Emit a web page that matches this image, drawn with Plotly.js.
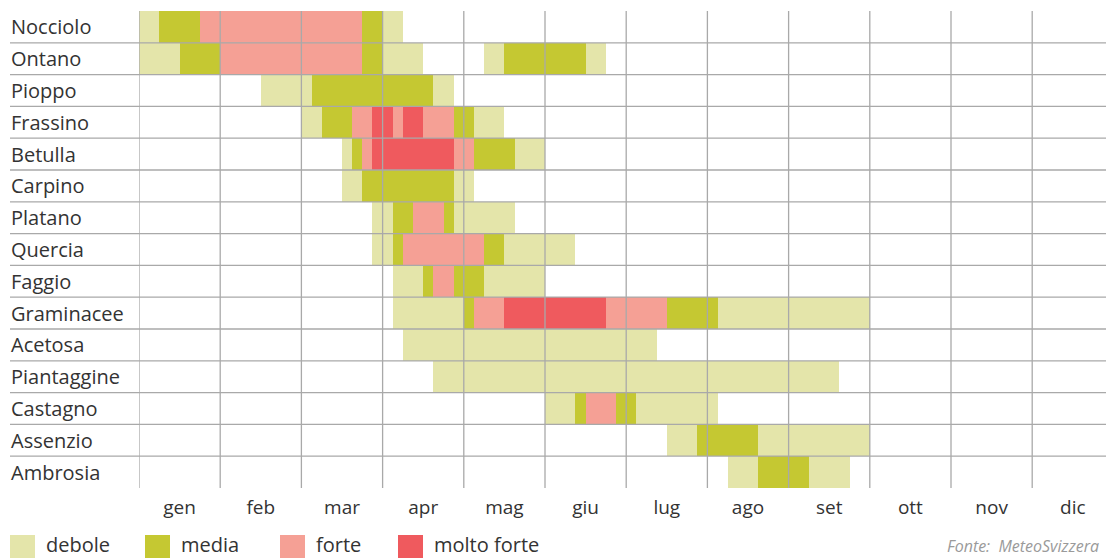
<!DOCTYPE html>
<html>
<head>
<meta charset="utf-8">
<script src="https://cdn.plot.ly/plotly-3.0.1.min.js"></script>
<style>html,body{margin:0;padding:0;background:#fff;}#chart{width:1106px;height:558px;}</style>
</head>
<body>
<div id="chart"></div>
<script>
// ---- data (values in months from 1 January; 0.125 = 1/8 month) ----
const plants = ['Nocciolo','Ontano','Pioppo','Frassino','Betulla','Carpino','Platano','Quercia',
  'Faggio','Graminacee','Acetosa','Piantaggine','Castagno','Assenzio','Ambrosia'];
const months = ['gen','feb','mar','apr','mag','giu','lug','ago','set','ott','nov','dic'];
const levels = ['debole','media','forte','molto forte'];

// [plant, start, end]
const debole = [
  ['Nocciolo',0,0.25],['Nocciolo',3,3.25],
  ['Ontano',0,0.5],['Ontano',3,3.5],['Ontano',4.25,4.5],['Ontano',5.5,5.75],
  ['Pioppo',1.5,2.125],['Pioppo',3.625,3.875],
  ['Frassino',2,2.25],['Frassino',4.125,4.5],
  ['Betulla',2.5,2.625],['Betulla',4.625,5],
  ['Carpino',2.5,2.75],['Carpino',3.875,4.125],
  ['Platano',2.875,3.125],['Platano',3.875,4.625],
  ['Quercia',2.875,3.125],['Quercia',4.5,5.375],
  ['Faggio',3.125,3.5],['Faggio',4.25,5],
  ['Graminacee',3.125,4],['Graminacee',7.125,9],
  ['Acetosa',3.25,6.375],
  ['Piantaggine',3.625,8.625],
  ['Castagno',5,5.375],['Castagno',6.125,7.125],
  ['Assenzio',6.5,6.875],['Assenzio',7.625,9],
  ['Ambrosia',7.25,7.625],['Ambrosia',8.25,8.75]
];
const media = [
  ['Nocciolo',0.25,0.75],['Nocciolo',2.75,3],
  ['Ontano',0.5,1],['Ontano',2.75,3],['Ontano',4.5,5.5],
  ['Pioppo',2.125,3.625],
  ['Frassino',2.25,2.625],['Frassino',3.875,4.125],
  ['Betulla',2.625,2.75],['Betulla',4.125,4.625],
  ['Carpino',2.75,3.875],
  ['Platano',3.125,3.375],['Platano',3.75,3.875],
  ['Quercia',3.125,3.25],['Quercia',4.25,4.5],
  ['Faggio',3.5,3.625],['Faggio',3.875,4.25],
  ['Graminacee',4,4.125],['Graminacee',6.5,7.125],
  ['Castagno',5.375,5.5],['Castagno',5.875,6.125],
  ['Assenzio',6.875,7.625],
  ['Ambrosia',7.625,8.25]
];
const forte = [
  ['Nocciolo',0.75,2.75],
  ['Ontano',1,2.75],
  ['Frassino',2.625,2.875],['Frassino',3.125,3.25],['Frassino',3.5,3.875],
  ['Betulla',2.75,2.875],['Betulla',3.875,4.125],
  ['Platano',3.375,3.75],
  ['Quercia',3.25,4.25],
  ['Faggio',3.625,3.875],
  ['Graminacee',4.125,4.5],['Graminacee',5.75,6.5],
  ['Castagno',5.5,5.875]
];
const moltoForte = [
  ['Frassino',2.875,3.125],['Frassino',3.25,3.5],
  ['Betulla',2.875,3.875],
  ['Graminacee',4.5,5.75]
];
const levelData = [debole, media, forte, moltoForte];
const levelColors = ['#e4e5aa','#c5c832','#f5a095','#ef5a5e'];

// ---- layout geometry ----
const W = 1106, H = 558;
const mL = 139, mR = 0, mT = 11, mB = 70;
const monthPx = 81.2;
const plotW = W - mL - mR, plotH = H - mT - mB;
const px2x = px => (px - mL) / plotW;
const px2y = py => (H - mB - py) / plotH;
const font = 'Open Sans, Noto Sans, sans-serif';

const traces = levelData.map((segs, i) => ({
  type: 'bar', orientation: 'h', name: levels[i],
  y: segs.map(s => s[0]),
  base: segs.map(s => s[1]),
  x: segs.map(s => s[2] - s[1]),
  width: 1,
  marker: {color: levelColors[i], line: {width: 0}},
  hoverinfo: 'skip', showlegend: false
}));

const gridColor = '#a9a9a9';
const shapes = [];
for (let m = 0; m < months.length; m++) {
  shapes.push({type:'line', xref:'x', yref:'paper', x0:m, x1:m, y0:0, y1:1,
    line:{color:gridColor, width:1.3}, layer:'above'});
}
for (let r = 0; r < plants.length - 1; r++) {
  shapes.push({type:'line', xref:'paper', yref:'y', x0:px2x(10), x1:1, y0:r+0.5, y1:r+0.5,
    line:{color:gridColor, width:1.3}, layer:'above'});
}
const annotations = plants.map((p, r) => ({
  xref:'paper', yref:'y', x:px2x(9), y:r, xanchor:'left', yanchor:'middle',
  text:p, showarrow:false, font:{family:font, size:20, color:'#333'}
}));
// legend (manual)
const legX = [10, 145, 280, 398];
levels.forEach((l, i) => {
  shapes.push({type:'rect', xref:'paper', yref:'paper',
    x0:px2x(legX[i]), x1:px2x(legX[i]+25), y0:px2y(560), y1:px2y(535),
    fillcolor:levelColors[i], line:{width:0}, layer:'above'});
  annotations.push({xref:'paper', yref:'paper', x:px2x(legX[i]+34), y:px2y(544),
    xanchor:'left', yanchor:'middle', text:l, showarrow:false,
    font:{family:font, size:20, color:'#333'}});
});
annotations.push({xref:'paper', yref:'paper', x:px2x(1101), y:px2y(546),
  xanchor:'right', yanchor:'middle', text:'<i>Fonte:  MeteoSvizzera</i>', showarrow:false,
  font:{family:font, size:16, color:'#9a9a9a'}});

const layout = {
  width: W, height: H,
  margin: {l: mL, r: mR, t: mT, b: mB, pad: 0},
  paper_bgcolor: '#fff', plot_bgcolor: '#fff',
  barmode: 'overlay', bargap: 0,
  showlegend: false,
  xaxis: {
    range: [0, plotW / monthPx], fixedrange: true,
    tickvals: months.map((m, i) => i + 0.5), ticktext: months,
    ticks: '', showgrid: false, zeroline: false, showline: false,
    tickfont: {family: font, size: 19, color: '#333'},
    ticklabelstandoff: 6
  },
  yaxis: {
    type: 'category', categoryorder: 'array', categoryarray: plants,
    range: [plants.length - 0.5, -0.5], fixedrange: true,
    showticklabels: false, showgrid: false, zeroline: false, showline: false, ticks: ''
  },
  shapes: shapes,
  annotations: annotations
};

Plotly.newPlot('chart', traces, layout, {displayModeBar: false, staticPlot: true});
</script>
</body>
</html>
